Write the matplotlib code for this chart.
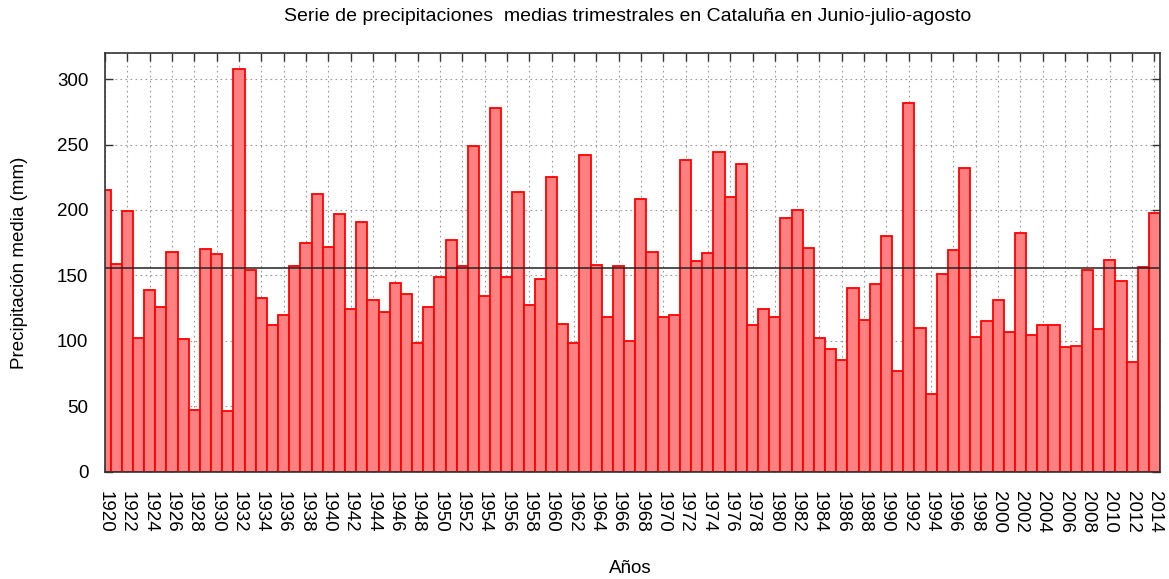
import matplotlib
matplotlib.use("Agg")
import matplotlib.pyplot as plt
import numpy as np

plt.rcParams['font.family'] = ['Liberation Sans', 'DejaVu Sans']

years = list(range(1920, 2015))
precip = [
    215, 159, 199, 102, 139, 126, 168, 101, 47, 170,
    166, 46, 308, 154, 133, 112, 120, 157, 175, 212,
    172, 197, 124, 191, 131, 122, 144, 136, 98, 126,
    149, 177, 157, 249, 134, 278, 149, 214, 127, 147,
    225, 113, 98, 242, 158, 118, 157, 100, 208, 168,
    118, 120, 238, 161, 167, 244, 210, 235, 112, 124,
    118, 194, 200, 171, 102, 94, 85, 140, 116, 143,
    180, 77, 282, 110, 59, 151, 169, 232, 103, 115,
    131, 107, 182, 104, 112, 112, 95, 96, 154, 109,
    162, 146, 84, 156, 198,
]
mean_value = 155.4
title = "Serie de precipitaciones  medias trimestrales en Cataluña en Junio-julio-agosto"
xlabel = "Años"
ylabel = "Precipitación media (mm)"
yticks = [0, 50, 100, 150, 200, 250, 300]
xticks = list(range(1920, 2015, 2))

fig = plt.figure(figsize=(11.69, 5.79), dpi=100)
ax = fig.add_axes([105/1169, 1-471.5/579, (1160-105)/1169, (471.5-53)/579])

ax.bar(years, precip, width=1.0, color='#ff8080', edgecolor='#ff0000',
       linewidth=1.3, zorder=2)
ax.axhline(mean_value, color='#222222', linewidth=1.1, zorder=3)

ax.set_xlim(1920, 2014.5)
ax.set_ylim(0, 320)
ax.set_yticks(yticks)
ax.set_xticks(xticks)
ax.set_xticklabels([str(y) for y in xticks], rotation=270, fontsize=13.5)
ax.tick_params(axis='y', labelsize=13.5, pad=12)
ax.tick_params(direction='in', length=6, width=1, top=True, right=True,
               color='#333333')
ax.tick_params(axis='x', pad=14)
ax.grid(True, linestyle=(0, (1.5, 3)), color='#999999', linewidth=0.8, zorder=0)
ax.set_axisbelow(True)
for s in ax.spines.values():
    s.set_color('#333333')
    s.set_linewidth(1.2)
    s.set_zorder(4)

fig.text(0.537, 0.972, title, ha='center', va='center', fontsize=14)
fig.text(0.539, 0.018, xlabel, ha='center', va='center', fontsize=13.5)
fig.text(0.017, 0.546, ylabel, ha='center', va='center', rotation=90, fontsize=13.5)

fig.savefig("out.png", dpi=100)
